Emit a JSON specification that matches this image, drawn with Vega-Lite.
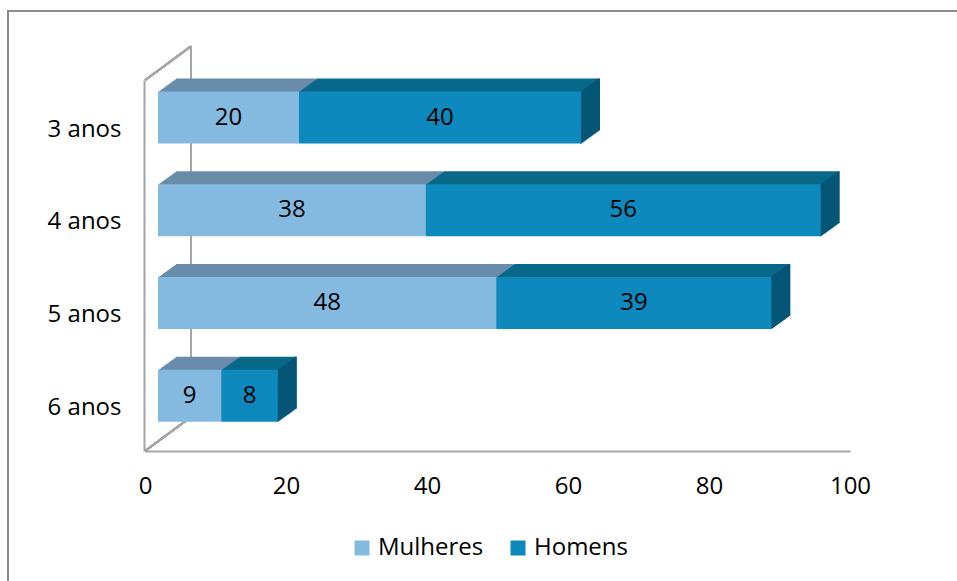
{
"$schema":"https://vega.github.io/schema/vega-lite/v6.json",
"autosize":"none",
"padding":{"left":8,"top":11,"right":0,"bottom":0},
"width":960,"height":580,
"background":"white",
"config":{"view":{"stroke":"#8C8C8C","strokeWidth":2},"font":"Open Sans"},
"data":{"values":[
{"cat":"3 anos","serie":"Mulheres","v":20},{"cat":"3 anos","serie":"Homens","v":40},
{"cat":"4 anos","serie":"Mulheres","v":38},{"cat":"4 anos","serie":"Homens","v":56},
{"cat":"5 anos","serie":"Mulheres","v":48},{"cat":"5 anos","serie":"Homens","v":39},
{"cat":"6 anos","serie":"Mulheres","v":9},{"cat":"6 anos","serie":"Homens","v":8}
]},
"transform":[
{"stack":"v","groupby":["cat"],"sort":[{"field":"serie","order":"descending"}],"as":["x0","x1"]},
{"calculate":"(datum.x0+datum.x1)/2","as":"mid"}
],
"encoding":{
"y":{"field":"cat","type":"nominal","scale":{"domain":["3 anos","4 anos","5 anos","6 anos"],"range":[69.2,440],"paddingInner":0,"paddingOuter":0},
"axis":{"title":null,"ticks":false,"offset":-136,"labelPadding":23,"labelOffset":3,"labelFontSize":24,"labelFont":"Open Sans","labelColor":"#000000","domainColor":"#A5A5A5","domainWidth":2}},
"x":{"field":"x0","type":"quantitative","scale":{"domain":[0,100],"range":[137,842],"nice":false},
"axis":{"title":null,"ticks":false,"grid":false,"labelFlush":false,"values":[0,20,40,60,80,100],"offset":-140,"labelPadding":23,"labelFontSize":24,"labelFont":"Open Sans","labelColor":"#000000","domainColor":"#A5A5A5","domainWidth":2}}
},
"layer":[
{"mark":{"type":"rule","color":"#A5A5A5","strokeWidth":2,"x2Offset":46,"y2Offset":-34,"opacity":1},"encoding":{"x":{"datum":0},"x2":{"datum":0},"y":{"datum":"3 anos","bandPosition":0},"y2":{"datum":"3 anos","bandPosition":0}}},
{"mark":{"type":"rule","color":"#A5A5A5","strokeWidth":2,"xOffset":46,"x2Offset":46,"yOffset":-34,"y2Offset":-34,"opacity":1},"encoding":{"x":{"datum":0},"x2":{"datum":0},"y":{"datum":"3 anos","bandPosition":0},"y2":{"datum":"6 anos","bandPosition":1}}},
{"mark":{"type":"rule","color":"#A5A5A5","strokeWidth":2,"x2Offset":46,"y2Offset":-34,"opacity":1},"encoding":{"x":{"datum":0},"x2":{"datum":0},"y":{"datum":"6 anos","bandPosition":1},"y2":{"datum":"6 anos","bandPosition":1}}},
{"mark":{"type":"bar","size":52,"opacity":1,"xOffset":31.0,"x2Offset":31.0,"yOffset":-22},"encoding":{"x2":{"field":"x1"},"color":{"condition":{"test":"datum.serie=='Mulheres'","value":"#688CAA"},"value":"#086889"}}},
{"mark":{"type":"bar","size":52,"opacity":1,"xOffset":29.6,"x2Offset":29.6,"yOffset":-21},"encoding":{"x2":{"field":"x1"},"color":{"condition":{"test":"datum.serie=='Mulheres'","value":"#688CAA"},"value":"#086889"}}},
{"mark":{"type":"bar","size":52,"opacity":1,"xOffset":28.2,"x2Offset":28.2,"yOffset":-20},"encoding":{"x2":{"field":"x1"},"color":{"condition":{"test":"datum.serie=='Mulheres'","value":"#688CAA"},"value":"#086889"}}},
{"mark":{"type":"bar","size":52,"opacity":1,"xOffset":26.8,"x2Offset":26.8,"yOffset":-19},"encoding":{"x2":{"field":"x1"},"color":{"condition":{"test":"datum.serie=='Mulheres'","value":"#688CAA"},"value":"#086889"}}},
{"mark":{"type":"bar","size":52,"opacity":1,"xOffset":25.5,"x2Offset":25.5,"yOffset":-18},"encoding":{"x2":{"field":"x1"},"color":{"condition":{"test":"datum.serie=='Mulheres'","value":"#688CAA"},"value":"#086889"}}},
{"mark":{"type":"bar","size":52,"opacity":1,"xOffset":24.1,"x2Offset":24.1,"yOffset":-17},"encoding":{"x2":{"field":"x1"},"color":{"condition":{"test":"datum.serie=='Mulheres'","value":"#688CAA"},"value":"#086889"}}},
{"mark":{"type":"bar","size":52,"opacity":1,"xOffset":22.7,"x2Offset":22.7,"yOffset":-16},"encoding":{"x2":{"field":"x1"},"color":{"condition":{"test":"datum.serie=='Mulheres'","value":"#688CAA"},"value":"#086889"}}},
{"mark":{"type":"bar","size":52,"opacity":1,"xOffset":21.3,"x2Offset":21.3,"yOffset":-15},"encoding":{"x2":{"field":"x1"},"color":{"condition":{"test":"datum.serie=='Mulheres'","value":"#688CAA"},"value":"#086889"}}},
{"mark":{"type":"bar","size":52,"opacity":1,"xOffset":19.9,"x2Offset":19.9,"yOffset":-14},"encoding":{"x2":{"field":"x1"},"color":{"condition":{"test":"datum.serie=='Mulheres'","value":"#688CAA"},"value":"#086889"}}},
{"mark":{"type":"bar","size":52,"opacity":1,"xOffset":18.5,"x2Offset":18.5,"yOffset":-13},"encoding":{"x2":{"field":"x1"},"color":{"condition":{"test":"datum.serie=='Mulheres'","value":"#688CAA"},"value":"#086889"}}},
{"mark":{"type":"bar","size":52,"opacity":1,"xOffset":17.2,"x2Offset":17.2,"yOffset":-12},"encoding":{"x2":{"field":"x1"},"color":{"condition":{"test":"datum.serie=='Mulheres'","value":"#688CAA"},"value":"#086889"}}},
{"mark":{"type":"bar","size":52,"opacity":1,"xOffset":15.8,"x2Offset":15.8,"yOffset":-11},"encoding":{"x2":{"field":"x1"},"color":{"condition":{"test":"datum.serie=='Mulheres'","value":"#688CAA"},"value":"#086889"}}},
{"mark":{"type":"bar","size":52,"opacity":1,"xOffset":14.4,"x2Offset":14.4,"yOffset":-10},"encoding":{"x2":{"field":"x1"},"color":{"condition":{"test":"datum.serie=='Mulheres'","value":"#688CAA"},"value":"#086889"}}},
{"transform":[{"filter":"datum.serie=='Homens'"}],"mark":{"type":"tick","size":52,"thickness":2,"opacity":1,"color":"#055676","xOffset":31.0,"yOffset":-22},"encoding":{"x":{"field":"x1","type":"quantitative"}}},
{"transform":[{"filter":"datum.serie=='Homens'"}],"mark":{"type":"tick","size":52,"thickness":2,"opacity":1,"color":"#055676","xOffset":29.6,"yOffset":-21},"encoding":{"x":{"field":"x1","type":"quantitative"}}},
{"transform":[{"filter":"datum.serie=='Homens'"}],"mark":{"type":"tick","size":52,"thickness":2,"opacity":1,"color":"#055676","xOffset":28.2,"yOffset":-20},"encoding":{"x":{"field":"x1","type":"quantitative"}}},
{"transform":[{"filter":"datum.serie=='Homens'"}],"mark":{"type":"tick","size":52,"thickness":2,"opacity":1,"color":"#055676","xOffset":26.8,"yOffset":-19},"encoding":{"x":{"field":"x1","type":"quantitative"}}},
{"transform":[{"filter":"datum.serie=='Homens'"}],"mark":{"type":"tick","size":52,"thickness":2,"opacity":1,"color":"#055676","xOffset":25.5,"yOffset":-18},"encoding":{"x":{"field":"x1","type":"quantitative"}}},
{"transform":[{"filter":"datum.serie=='Homens'"}],"mark":{"type":"tick","size":52,"thickness":2,"opacity":1,"color":"#055676","xOffset":24.1,"yOffset":-17},"encoding":{"x":{"field":"x1","type":"quantitative"}}},
{"transform":[{"filter":"datum.serie=='Homens'"}],"mark":{"type":"tick","size":52,"thickness":2,"opacity":1,"color":"#055676","xOffset":22.7,"yOffset":-16},"encoding":{"x":{"field":"x1","type":"quantitative"}}},
{"transform":[{"filter":"datum.serie=='Homens'"}],"mark":{"type":"tick","size":52,"thickness":2,"opacity":1,"color":"#055676","xOffset":21.3,"yOffset":-15},"encoding":{"x":{"field":"x1","type":"quantitative"}}},
{"transform":[{"filter":"datum.serie=='Homens'"}],"mark":{"type":"tick","size":52,"thickness":2,"opacity":1,"color":"#055676","xOffset":19.9,"yOffset":-14},"encoding":{"x":{"field":"x1","type":"quantitative"}}},
{"transform":[{"filter":"datum.serie=='Homens'"}],"mark":{"type":"tick","size":52,"thickness":2,"opacity":1,"color":"#055676","xOffset":18.5,"yOffset":-13},"encoding":{"x":{"field":"x1","type":"quantitative"}}},
{"transform":[{"filter":"datum.serie=='Homens'"}],"mark":{"type":"tick","size":52,"thickness":2,"opacity":1,"color":"#055676","xOffset":17.2,"yOffset":-12},"encoding":{"x":{"field":"x1","type":"quantitative"}}},
{"transform":[{"filter":"datum.serie=='Homens'"}],"mark":{"type":"tick","size":52,"thickness":2,"opacity":1,"color":"#055676","xOffset":15.8,"yOffset":-11},"encoding":{"x":{"field":"x1","type":"quantitative"}}},
{"transform":[{"filter":"datum.serie=='Homens'"}],"mark":{"type":"tick","size":52,"thickness":2,"opacity":1,"color":"#055676","xOffset":14.4,"yOffset":-10},"encoding":{"x":{"field":"x1","type":"quantitative"}}},
{"transform":[{"filter":"datum.serie=='Homens'"}],"mark":{"type":"tick","size":52,"thickness":2,"opacity":1,"color":"#055676","xOffset":13.0,"yOffset":-9},"encoding":{"x":{"field":"x1","type":"quantitative"}}},
{"mark":{"type":"bar","size":52,"opacity":1,"xOffset":13,"x2Offset":13,"yOffset":-9},"encoding":{"x2":{"field":"x1"},"color":{"field":"serie","type":"nominal","scale":{"domain":["Mulheres","Homens"],"range":["#85BAE0","#0E89BD"]},"legend":{"orient":"none","legendX":342,"legendY":525,"direction":"horizontal","title":null,"symbolType":"square","symbolSize":225,"symbolStrokeWidth":0,"labelFontSize":24,"labelFont":"Open Sans","labelColor":"#000000","labelOffset":4,"columnPadding":22}}}},
{"mark":{"type":"text","fontSize":24,"font":"Open Sans","color":"#000000","dx":13,"dy":-9,"baseline":"middle","align":"center"},"encoding":{"x":{"field":"mid","type":"quantitative"},"text":{"field":"v","type":"quantitative"}}}
]
}
